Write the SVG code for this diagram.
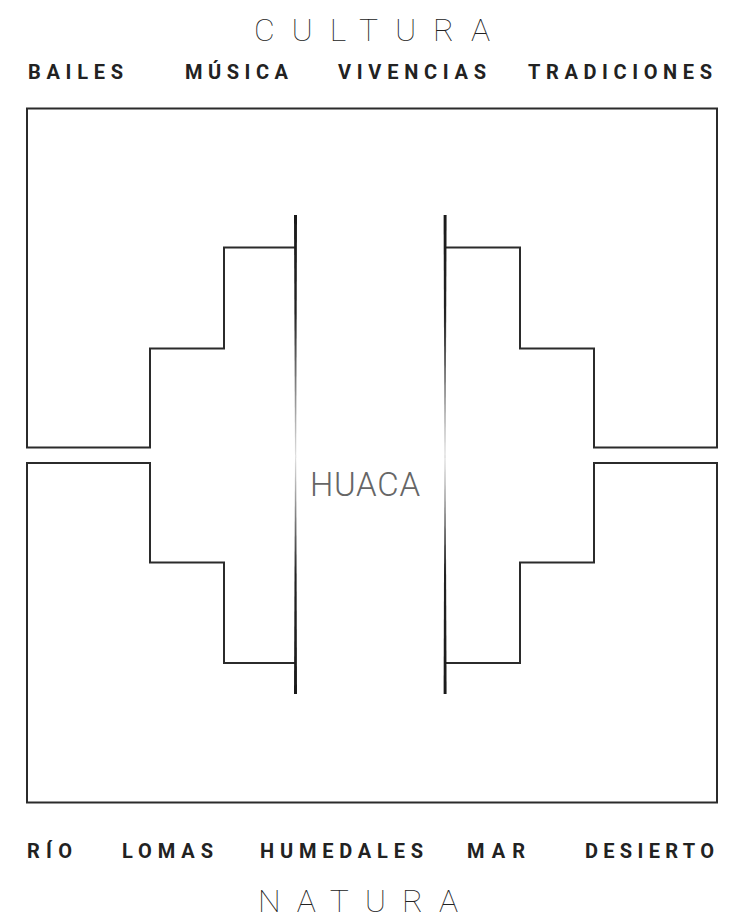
<svg xmlns="http://www.w3.org/2000/svg" width="734" height="920" viewBox="0 0 734 920">
<style>
.title{font-family:Roboto,"Liberation Sans",sans-serif;font-weight:100;font-size:32px;fill:#222}
.item{font-family:Roboto,"Liberation Sans",sans-serif;font-weight:700;font-size:20px;fill:#222}
.huaca{font-family:Roboto,"Liberation Sans",sans-serif;font-weight:300;font-size:33px;fill:#666}
.frame{fill:none;stroke:#2b2b2b;stroke-width:2;stroke-linejoin:miter}
</style>
<defs>
<linearGradient id="gUp" gradientUnits="userSpaceOnUse" x1="0" y1="215" x2="0" y2="460">
<stop offset="0" stop-color="#1a1a1a"/>
<stop offset="0.4" stop-color="#222"/>
<stop offset="1" stop-color="#e4e4e4"/>
</linearGradient>
<linearGradient id="gDown" gradientUnits="userSpaceOnUse" x1="0" y1="694" x2="0" y2="455">
<stop offset="0" stop-color="#1a1a1a"/>
<stop offset="0.5" stop-color="#222"/>
<stop offset="1" stop-color="#e4e4e4"/>
</linearGradient>
</defs>
<rect width="734" height="920" fill="#fff"/>
<g id="cultura-title"><text class="title" x="254" y="41" textLength="236" lengthAdjust="spacing">CULTURA</text></g>
<g id="cultura-items">
<text class="item" x="28" y="79" textLength="95" lengthAdjust="spacing">BAILES</text>
<text class="item" x="185" y="79" textLength="103" lengthAdjust="spacing">MÚSICA</text>
<text class="item" x="338" y="79" textLength="148" lengthAdjust="spacing">VIVENCIAS</text>
<text class="item" x="528" y="79" textLength="184" lengthAdjust="spacing">TRADICIONES</text>
</g>
<g id="frame-top"><path class="frame" d="M295,247.5 H224 V348.5 H150 V447.5 H27 V108.5 H717 V447.5 H594 V348.5 H520 V247.5 H445"/></g>
<g id="frame-bottom"><path class="frame" d="M295,663 H224 V562.5 H150 V463 H27 V802.5 H717 V463 H594 V562.5 H520 V663 H445"/></g>
<g id="connectors">
<polygon points="294,215 297,215 296.2,458 295,458" fill="url(#gUp)"/>
<polygon points="295,455 296.2,455 297,694 294,694" fill="url(#gDown)"/>
<polygon points="443.6,215 446.6,215 445.6,458 444.4,458" fill="url(#gUp)"/>
<polygon points="444.4,455 445.6,455 446.6,694 443.6,694" fill="url(#gDown)"/>
</g>
<g id="huaca"><text class="huaca" x="310" y="496" textLength="110" lengthAdjust="spacing">HUACA</text></g>
<g id="natura-items">
<text class="item" x="27" y="858" textLength="45" lengthAdjust="spacing">RÍO</text>
<text class="item" x="122" y="858" textLength="91" lengthAdjust="spacing">LOMAS</text>
<text class="item" x="260" y="858" textLength="163" lengthAdjust="spacing">HUMEDALES</text>
<text class="item" x="467" y="858" textLength="58" lengthAdjust="spacing">MAR</text>
<text class="item" x="585" y="858" textLength="129" lengthAdjust="spacing">DESIERTO</text>
</g>
<g id="natura-title"><text class="title" x="258" y="912" textLength="200" lengthAdjust="spacing">NATURA</text></g>
</svg>
